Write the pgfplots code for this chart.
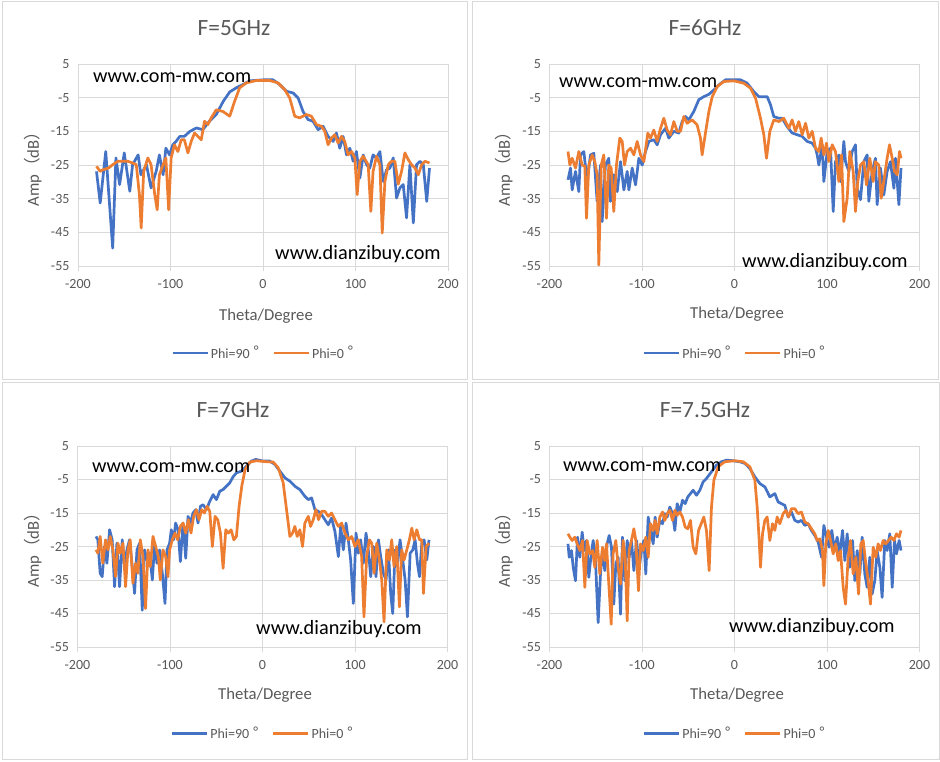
\documentclass[border=0pt]{standalone}
\usepackage{fontspec}
\setmainfont{Carlito}
\newfontfamily\cjk{Noto Sans CJK SC}
\usepackage{pgfplots}
\pgfplotsset{compat=1.18}
\definecolor{sblue}{HTML}{4472C4}
\definecolor{sorange}{HTML}{ED7D31}
\definecolor{txt}{HTML}{595959}
\definecolor{grd}{HTML}{D9D9D9}
\pgfplotsset{
  panel/.style={
    scale only axis, width=370pt, height=202pt,
    xmin=-200, xmax=200, ymin=-55, ymax=5,
    xtick={-200,-100,0,100,200}, ytick={-55,-45,-35,-25,-15,-5,5},
    grid=major, grid style={draw=grd, line width=0.75pt},
    axis line style={draw=grd, line width=0.75pt},
    xtick pos=bottom, tick align=outside, major tick length=5pt,
    xtick style={draw=grd, line width=0.75pt}, ytick style={draw=none},
    ticklabel style={font=\fontsize{14}{16}\selectfont, text=txt},
    /pgf/number format/assume math mode=true,
    xticklabel style={yshift=-5pt},
    legend style={at={(0.5,-0.43)}, anchor=center, draw=none, fill=none,
      legend columns=2, font=\fontsize{14}{16}\selectfont, text=txt,
      /tikz/every even column/.append style={column sep=12pt}},
    legend image code/.code={\draw[#1, line width=2.6pt] (0pt,0pt) -- (35pt,0pt);},
    every axis plot/.append style={line width=2.7pt, line join=round},
  },
  bl/.style={color=sblue},
  or/.style={color=sorange},
}
\newcommand\legs{\addlegendentry{Phi=90\hspace{4pt}\raisebox{2.5pt}{°}}\addlegendentry{Phi=0\hspace{4pt}\raisebox{2.5pt}{°}}}
\newcommand\ttl[2]{\node[font=\fontsize{23.3}{28}\selectfont, text=txt] at #1 {#2};}
\newcommand\ylab[1]{\node[rotate=90, font=\fontsize{16.7}{20}\selectfont, text=txt] at #1 {Amp{\cjk （}dB{\cjk ）}};}
\newcommand\xlab[1]{\node[font=\fontsize{16.7}{20}\selectfont, text=txt] at #1 {Theta/Degree};}
\newcommand\wma[1]{\node[anchor=west, inner sep=0pt, font=\fontsize{20.2}{22}\selectfont] at #1 {www.com-mw.com};}
\newcommand\wmb[1]{\node[anchor=west, inner sep=0pt, font=\fontsize{20.3}{22}\selectfont] at #1 {www.dianzibuy.com};}
\begin{document}
\begin{tikzpicture}
\fill[white] (0pt,0pt) rectangle (940pt,-761pt);
\draw[grd, line width=0.75pt] (2.5pt,-1.5pt) rectangle (467.5pt,-379pt);
\draw[grd, line width=0.75pt] (472.5pt,-1.5pt) rectangle (938.5pt,-379pt);
\draw[grd, line width=0.75pt] (2.5pt,-382.5pt) rectangle (467.5pt,-759pt);
\draw[grd, line width=0.75pt] (472.5pt,-382.5pt) rectangle (939.5pt,-759pt);

% ---------- F=5GHz ----------
\begin{axis}[panel, at={(78pt,-266pt)}, anchor=south west, height=202pt]
\addplot[bl] coordinates {(-180,-26.9) (-176,-36.3) (-170,-21) (-162.5,-49.7) (-159,-22.9) (-155,-30.8) (-150,-21.4) (-144,-32.8) (-141,-24.9) (-135,-22) (-132,-27.9) (-126,-24.9) (-121,-31.8) (-115.5,-26.9) (-112,-22) (-108,-27.9) (-105,-20) (-101,-22) (-97.5,-19) (-94,-18) (-90,-16.5) (-85,-16.5) (-79,-15) (-72,-14) (-65,-14.5) (-58,-12) (-50.5,-10) (-43,-6.1) (-36,-3.3) (-29,-2.1) (-21.7,-1.1) (-14.4,0) (0,0.3) (10.8,0.3) (18,-1.1) (25.3,-3.1) (32.5,-3.6) (38,-5.1) (43.3,-9.1) (48.7,-11.5) (54,-12) (59.6,-14.5) (65,-13.5) (70.4,-16.5) (75.8,-18) (79.4,-15.5) (83,-20) (86.6,-16.5) (90.3,-22) (93.9,-20) (97.5,-23.9) (101,-21) (104.7,-28.9) (108.3,-22) (112,-24.9) (115.5,-25.9) (119,-22) (122.7,-22.9) (126.4,-21) (130,-29.9) (133.6,-26.4) (137.2,-25.9) (140.8,-22.9) (144.4,-34.8) (148,-31.8) (151.6,-30.8) (155.2,-40.7) (158.8,-24.9) (162.5,-42.2) (166,-24.9) (169.7,-23.9) (173.3,-24.9) (177,-35.8) (180,-25.9)};
\addplot[or] coordinates {(-180,-25.4) (-176,-26.9) (-173,-26.4) (-167,-25.9) (-162.5,-24.9) (-157,-23.9) (-152,-23.9) (-146,-23.9) (-141,-24.4) (-137,-24.9) (-133.6,-33.8) (-131.7,-43.7) (-129,-26.9) (-124.5,-22.9) (-121,-24.9) (-117,-33.8) (-114.4,-38.3) (-112,-27.9) (-108,-24.9) (-105,-22.9) (-102,-38.3) (-99.3,-22.9) (-95.7,-19) (-92,-21) (-88.4,-17.5) (-85,-17.5) (-81.2,-21.4) (-77.6,-18) (-74,-15.5) (-70.4,-16.5) (-66.8,-17.5) (-63.2,-12) (-59.6,-13) (-56,-11) (-50.5,-8.6) (-43.3,-9.1) (-36,-10.5) (-30.7,-6.1) (-25.3,-2.1) (-18,-0.6) (-7.2,0.1) (7.2,0.1) (16.2,-0.6) (23.5,-2.6) (28.9,-5.1) (34.3,-10.5) (39.7,-11) (46.9,-10) (52.3,-10.5) (57.8,-13) (63.2,-13.5) (66.8,-15) (70.4,-19) (74,-17) (77.6,-16) (81.2,-18.5) (84.8,-16.5) (88.4,-18) (92,-22) (95.7,-21) (99.3,-22.9) (101.8,-33.8) (104.7,-23.9) (108.3,-22.4) (113.7,-24.9) (116.6,-38.8) (119,-26.9) (122.7,-22.4) (126.4,-24.9) (128.9,-45.2) (131.8,-29.9) (135.4,-24.9) (139,-23.9) (142.6,-23.9) (146.2,-30.7) (149.8,-26.9) (153.4,-21.4) (157,-23.4) (160.6,-24.9) (164.3,-25.9) (167.9,-27.9) (171.5,-24.9) (175.1,-23.9) (180,-24.4)};
\legs
\end{axis}

% ---------- F=6GHz ----------
\begin{axis}[panel, at={(549.5pt,-266pt)}, anchor=south west, height=202pt]
\addplot[bl] coordinates {(-180,-29.4) (-177.3,-25.9) (-175.5,-32.4) (-171.9,-26.9) (-168.3,-32.9) (-166.5,-22) (-162.9,-21) (-159.3,-29.9) (-155.7,-22) (-152.1,-21.5) (-148.5,-35.8) (-144.9,-25) (-143.1,-41.8) (-139.5,-25) (-135.9,-23) (-134.1,-35.8) (-130.5,-27.9) (-126.8,-32.9) (-123.2,-24) (-119.6,-32.4) (-116,-26.9) (-114.2,-32.4) (-110.6,-25.9) (-107,-30.9) (-103.4,-23) (-99.8,-25) (-96.2,-21) (-92.6,-18) (-87.2,-17.5) (-83.6,-19) (-80,-16) (-74.6,-14.1) (-71,-17) (-65.6,-15) (-60.2,-15.5) (-56.6,-12.1) (-53,-10.6) (-49.4,-11.6) (-44,-9.1) (-38.6,-5.6) (-33.2,-4.7) (-27.7,-4) (-22.3,-2.7) (-16.9,-1.2) (-9.7,0.3) (6.5,0.3) (13.7,-0.7) (20.9,-3.2) (26.3,-4.7) (35.3,-4.7) (38.9,-7.1) (42.5,-10.6) (47.9,-11.1) (51.5,-11.1) (56.9,-13.6) (62.3,-15.5) (67.7,-16) (73.2,-16.5) (78.6,-18) (84,-18.5) (87.6,-20) (89.4,-22) (91.2,-25) (94.8,-19) (96.6,-29.9) (100.2,-21) (103.8,-20) (106.7,-38.8) (109.2,-24) (112.8,-22) (114.6,-29.9) (118.2,-18) (120,-24) (123.6,-26.9) (127.2,-21) (130.8,-19) (132.6,-31.9) (136.2,-35.3) (139.8,-24) (143.4,-22) (145.2,-35.8) (148.8,-26.9) (152.4,-23) (154.2,-36.8) (157.8,-25.9) (161.4,-33.9) (165,-26.9) (168.6,-24) (172.3,-31.9) (174.1,-23) (177.7,-36.8) (180,-25.9)};
\addplot[or] coordinates {(-180,-21) (-178,-25) (-175.5,-23) (-171.9,-25.9) (-168.3,-21) (-164.7,-25) (-161.8,-25.4) (-160,-40.8) (-157.5,-25) (-153.9,-22) (-151,-24) (-148.5,-27.9) (-146.7,-54.7) (-144.1,-25) (-141.3,-22) (-138.4,-40.8) (-135.9,-25) (-133.3,-25.9) (-130.5,-38.8) (-127.6,-25) (-124,-17) (-121.4,-18) (-118.9,-25) (-116,-21) (-112.4,-20) (-108.8,-22) (-105.2,-18) (-101.6,-22) (-98,-24) (-93.7,-15.5) (-90.8,-17) (-87.2,-14.6) (-83.6,-18) (-80,-14.1) (-76.4,-11.1) (-72.8,-14.6) (-69.2,-16) (-65.6,-12.1) (-62,-15) (-58.4,-15) (-54.8,-10.6) (-51.2,-12.6) (-45.8,-11.6) (-40.4,-13.1) (-36.8,-17) (-35,-22) (-31.4,-15.5) (-27.7,-9.1) (-24.1,-4.7) (-18.7,-1.7) (-11.5,-0.2) (-0.7,0) (10.1,-0.7) (17.3,-2.2) (22.7,-5.1) (28.1,-11.1) (31.7,-16) (34.6,-23) (38.2,-15) (42.5,-11.6) (47.9,-12.1) (53.3,-11.1) (58.7,-14.1) (62.3,-11.6) (65.9,-15) (69.5,-12.1) (73.2,-16) (76.8,-12.6) (80.4,-17) (84,-15) (87.6,-20) (91.2,-21) (93.7,-17) (96.6,-22) (99.5,-18.5) (102,-24) (105.6,-19) (109.2,-21) (112.8,-29.9) (115.7,-22) (118.2,-41.8) (121.8,-34.9) (124.7,-21) (128.3,-26.9) (130.8,-38.8) (133.3,-29.9) (136.2,-25) (139.8,-24) (142.7,-30.9) (146.3,-23) (149.9,-29.9) (152.4,-24) (156,-25) (158.6,-34.9) (161.4,-29.9) (165,-23) (167.6,-19) (170.5,-23) (173,-26.9) (175.9,-27.9) (178.4,-21) (180,-23)};
\legs
\end{axis}

% ---------- F=7GHz ----------
\begin{axis}[panel, at={(77.5pt,-647pt)}, anchor=south west, height=201pt]
\addplot[bl] coordinates {(-180,-22) (-178,-23) (-175.5,-33) (-173.3,-34) (-170.8,-25) (-168.2,-30) (-165.3,-20) (-162.5,-23) (-159.9,-37) (-157.4,-24) (-154.5,-37) (-151.6,-23) (-149.1,-31) (-146.6,-26) (-143.7,-23) (-140.8,-31) (-138.3,-39) (-135.7,-26) (-132.9,-24) (-130,-44) (-127.5,-26) (-124.9,-29) (-122,-27) (-119.1,-35) (-116.6,-24) (-114.1,-30) (-111.2,-26) (-108.3,-33) (-105.4,-42) (-103.2,-26) (-100.4,-24) (-98.6,-20) (-96,-23) (-93.9,-18) (-91.3,-20) (-88.8,-29.5) (-85.9,-18) (-83,-28.5) (-80.5,-16) (-78,-18) (-75.1,-15) (-72.2,-14) (-69.7,-18) (-67.1,-13) (-64.3,-12.5) (-60.6,-14) (-57,-11.5) (-53.4,-9.5) (-49.8,-11) (-46.2,-8.5) (-42.6,-8) (-39,-7) (-35.4,-6) (-31.8,-4.2) (-28.2,-3) (-22.7,-2.5) (-17.3,-1) (-11.9,0.5) (-7.2,1) (0.7,0.5) (7.9,0.5) (13.4,-0.5) (18.8,-2.5) (24.2,-4.5) (29.6,-5.5) (35,-7) (40.4,-8) (45.8,-10) (49.5,-11) (53.1,-10.5) (56.7,-14) (60.3,-14.5) (63.9,-15.5) (67.5,-17) (71.1,-18.5) (74.7,-16.5) (78.3,-20.5) (82,-28) (84.5,-19) (87.4,-26) (90.3,-18) (92.8,-23) (95.3,-29) (98.2,-42) (101.1,-21) (103.6,-27) (106.1,-23) (109,-30) (111.9,-21) (114.4,-26) (117,-34) (119.9,-25) (122.7,-34) (125.3,-23) (127.8,-28) (130.7,-33) (133.6,-35) (136.1,-26) (138.6,-39) (140.8,-45) (143.3,-26) (145.8,-31) (148.7,-23) (151.6,-29) (154.2,-35) (156.7,-46) (159.6,-27) (162.5,-26) (165,-23) (167.5,-30) (169.7,-34) (172.2,-24) (174.7,-23) (177.6,-29) (180,-23)};
\addplot[or] coordinates {(-180,-26) (-178,-27) (-175.5,-22) (-172.6,-30) (-169.7,-23) (-167.1,-26) (-164.6,-22) (-161.7,-26) (-158.8,-34) (-156.3,-24) (-153.8,-27) (-150.9,-24) (-148,-37) (-145.5,-26) (-143,-23) (-140.1,-36) (-137.2,-30) (-134.7,-33) (-132.1,-23) (-129.2,-28) (-126.4,-43.5) (-123.8,-26) (-121.3,-31) (-118.4,-22) (-115.5,-25) (-112.6,-28) (-110.5,-35) (-107.6,-26) (-104.7,-28) (-102.2,-34) (-100.4,-26) (-97.5,-23) (-94.6,-21) (-91.7,-23) (-88.8,-19) (-85.9,-18) (-83,-21) (-80.1,-17) (-77.3,-21) (-74.4,-16) (-71.5,-14) (-68.6,-17) (-65.7,-14) (-62.8,-15) (-59.9,-13) (-57,-14.5) (-54.2,-25) (-51.3,-16) (-48.4,-17) (-45.5,-21) (-42.6,-31.5) (-39.7,-20) (-36.8,-21) (-33.9,-20) (-31,-23) (-28.2,-22) (-25.3,-13) (-22.4,-7) (-18.8,-2) (-13.7,0.2) (-6.5,0.6) (4.3,0.3) (11.6,0.2) (17,-1.5) (22.4,-6) (26,-14) (29.6,-22) (32.5,-21) (35,-19) (37.5,-22) (40.4,-20) (43.3,-25) (45.8,-18) (49.5,-16) (52,-19) (54.9,-17) (57.8,-14) (60.6,-17) (63.9,-14.5) (67.5,-14.5) (71.1,-16) (74.7,-15) (78.3,-17) (82,-19) (85.6,-18) (89.2,-21) (92.8,-23) (96.4,-22) (100,-25) (103.6,-23) (107.2,-28) (109.7,-46) (112.6,-28) (115.5,-23) (118.1,-24) (120.6,-33) (123.5,-24) (126.4,-29) (128.9,-35) (131.4,-47.5) (134.3,-26) (137.2,-29) (139.7,-23) (142.2,-31) (145.1,-25) (148,-43) (150.5,-26) (153.1,-29) (156,-26) (158.8,-23) (161.4,-19.5) (163.9,-23) (166.8,-20) (169.7,-23) (172.2,-23) (174,-39) (176.9,-25) (180,-24)};
\legs
\end{axis}

% ---------- F=7.5GHz ----------
\begin{axis}[panel, at={(549.5pt,-647pt)}, anchor=south west, height=201pt]
\addplot[bl] coordinates {(-180,-24.2) (-178.7,-28.2) (-176.2,-26.2) (-174.4,-31.2) (-171.9,-35.2) (-169.7,-22.2) (-167.2,-28.2) (-164.7,-20.7) (-162.5,-26.2) (-160,-23.2) (-157.5,-34.2) (-155.3,-28.2) (-152.8,-23.2) (-150.3,-29.2) (-147.4,-47.7) (-144.9,-33.2) (-142.7,-26.2) (-140.2,-32.2) (-137.7,-24.2) (-135.5,-21.7) (-133,-25.2) (-130.5,-42.2) (-128.3,-30.2) (-125.8,-28.2) (-123.2,-45.2) (-121.1,-22.2) (-118.6,-35.2) (-116,-23.2) (-113.9,-28.2) (-111.4,-23.2) (-108.8,-32.2) (-105.9,-23.2) (-103.1,-31.2) (-100.5,-26.2) (-98,-23.2) (-95.9,-33.2) (-93.3,-16.2) (-90.8,-20.2) (-87.9,-24.2) (-85.8,-16.2) (-83.6,-22.2) (-80.7,-17.2) (-77.8,-18.2) (-75.3,-15.2) (-72.8,-16.2) (-69.9,-13.2) (-67,-15.2) (-64.5,-20.2) (-62,-12.2) (-59.1,-14.7) (-56.2,-11.2) (-53.3,-12.2) (-50.5,-10.2) (-47.6,-9.2) (-44.7,-8.2) (-41.1,-9.7) (-37.5,-8.2) (-33.9,-5.7) (-30.3,-4.7) (-24.9,-2.7) (-19.5,-0.7) (-14.1,0.3) (-8.6,0.8) (-1.4,0.6) (5.8,0.3) (11.2,-0.2) (16.6,-1.7) (22,-4.2) (27.4,-6.2) (32.8,-7.2) (38.2,-10.2) (43.6,-9.2) (47.2,-11.7) (50.8,-12.2) (54.4,-12.7) (58,-16.2) (61.6,-14.7) (65.2,-17.2) (68.8,-17.7) (72.4,-17.2) (76,-18.7) (79.6,-18.2) (83.2,-20.2) (86.8,-21.7) (90.5,-23.7) (94.1,-28.2) (96.6,-18.7) (99.5,-22.2) (102.3,-25.2) (105.2,-20.2) (108.1,-26.2) (111,-22.2) (113.9,-27.2) (116.8,-20.2) (119.3,-29.2) (121.8,-21.2) (124.7,-31.2) (127.6,-23.2) (130.1,-35.2) (132.6,-26.2) (135.5,-33.2) (138,-22.2) (140.9,-33.2) (143.4,-37.2) (146.3,-28.2) (148.8,-39.2) (151.7,-35.2) (154.2,-26.2) (157.1,-31.2) (159.6,-40.2) (162.5,-23.2) (165,-26.2) (167.9,-21.2) (170.5,-37.2) (173,-23.2) (175.1,-27.2) (178,-23.2) (180,-26.2)};
\addplot[or] coordinates {(-180,-21.2) (-178,-22.2) (-175.5,-23.2) (-172.6,-22.2) (-170.1,-24.2) (-167.2,-26.2) (-164.3,-23.2) (-161.8,-37.2) (-159.3,-23.2) (-156.4,-27.2) (-153.5,-26.2) (-151,-31.2) (-148.5,-23.2) (-145.6,-33.2) (-142.7,-25.2) (-140.2,-29.2) (-138.4,-24.2) (-135.9,-36.2) (-133.3,-48.2) (-131.2,-27.2) (-128.3,-23.2) (-125.8,-31.2) (-123.2,-36.2) (-120.4,-23.2) (-118.2,-28.2) (-116,-47.2) (-113.9,-26.2) (-111.4,-23.2) (-108.8,-19.7) (-106.7,-23.2) (-103.8,-38.2) (-101.6,-24.2) (-98.7,-26.2) (-95.9,-22.2) (-93.3,-28.2) (-90.8,-18.2) (-87.9,-20.2) (-85.8,-17.2) (-83.6,-21.2) (-80.7,-16.2) (-77.8,-14.7) (-75.3,-17.2) (-72.8,-15.2) (-69.9,-14.2) (-67,-17.2) (-64.5,-14.2) (-62,-15.7) (-59.1,-14.7) (-56.2,-16.2) (-53.3,-19.2) (-50.5,-19.7) (-47.6,-17.2) (-44.7,-25.2) (-41.8,-27.2) (-38.9,-20.2) (-36,-18.2) (-33.2,-16.2) (-30.3,-20.2) (-27.4,-32.2) (-24.9,-13.2) (-22.3,-5.2) (-17.7,-1.2) (-10.5,0.3) (0.4,0.6) (9.4,0.3) (16.6,-1.2) (22,-5.2) (24.5,-13.2) (26.7,-23.2) (28.1,-31.2) (30.3,-21.2) (32.8,-17.2) (35.3,-16.2) (38.2,-23.2) (41.1,-18.2) (43.6,-20.2) (46.1,-16.2) (49,-18.2) (52.6,-15.2) (55.5,-14.2) (58.4,-16.2) (61.6,-13.7) (65.2,-13.7) (68.8,-15.2) (72.4,-14.7) (76,-17.7) (79.6,-18.2) (83.2,-19.7) (86.8,-21.2) (89.4,-23.2) (92.3,-22.7) (95.1,-26.2) (96.6,-36.7) (98.7,-24.2) (101.3,-20.2) (103.8,-23.2) (106.7,-27.2) (109.5,-24.2) (112.1,-29.2) (114.6,-26.2) (117.5,-37.2) (120,-42.2) (122.9,-28.2) (125.4,-23.2) (128.3,-33.2) (131.2,-28.2) (134.1,-39.2) (136.6,-24.2) (139.1,-23.2) (141.6,-29.2) (144.5,-35.2) (147,-42.2) (149.9,-25.2) (152.8,-28.2) (155.3,-24.2) (157.8,-26.2) (160.7,-23.2) (163.6,-24.2) (166.5,-23.2) (169.4,-22.2) (172.3,-23.2) (175.1,-21.2) (178,-22.2) (180,-20.2)};
\legs
\end{axis}

\ttl{(234pt,-28pt)}{F=5GHz}
\ttl{(705pt,-28pt)}{F=6GHz}
\ttl{(233pt,-410pt)}{F=7GHz}
\ttl{(705pt,-410pt)}{F=7.5GHz}
\ylab{(33pt,-165pt)}
\ylab{(504pt,-165pt)}
\ylab{(33pt,-546pt)}
\ylab{(504pt,-546pt)}
\xlab{(266pt,-316pt)}
\xlab{(737pt,-314pt)}
\xlab{(265pt,-695pt)}
\xlab{(737pt,-695pt)}
\wma{(93pt,-78pt)}
\wmb{(275pt,-254pt)}
\wma{(559pt,-83pt)}
\wmb{(742pt,-262pt)}
\wma{(92pt,-468pt)}
\wmb{(256pt,-629pt)}
\wma{(563pt,-467pt)}
\wmb{(729pt,-627pt)}
\end{tikzpicture}
\end{document}
